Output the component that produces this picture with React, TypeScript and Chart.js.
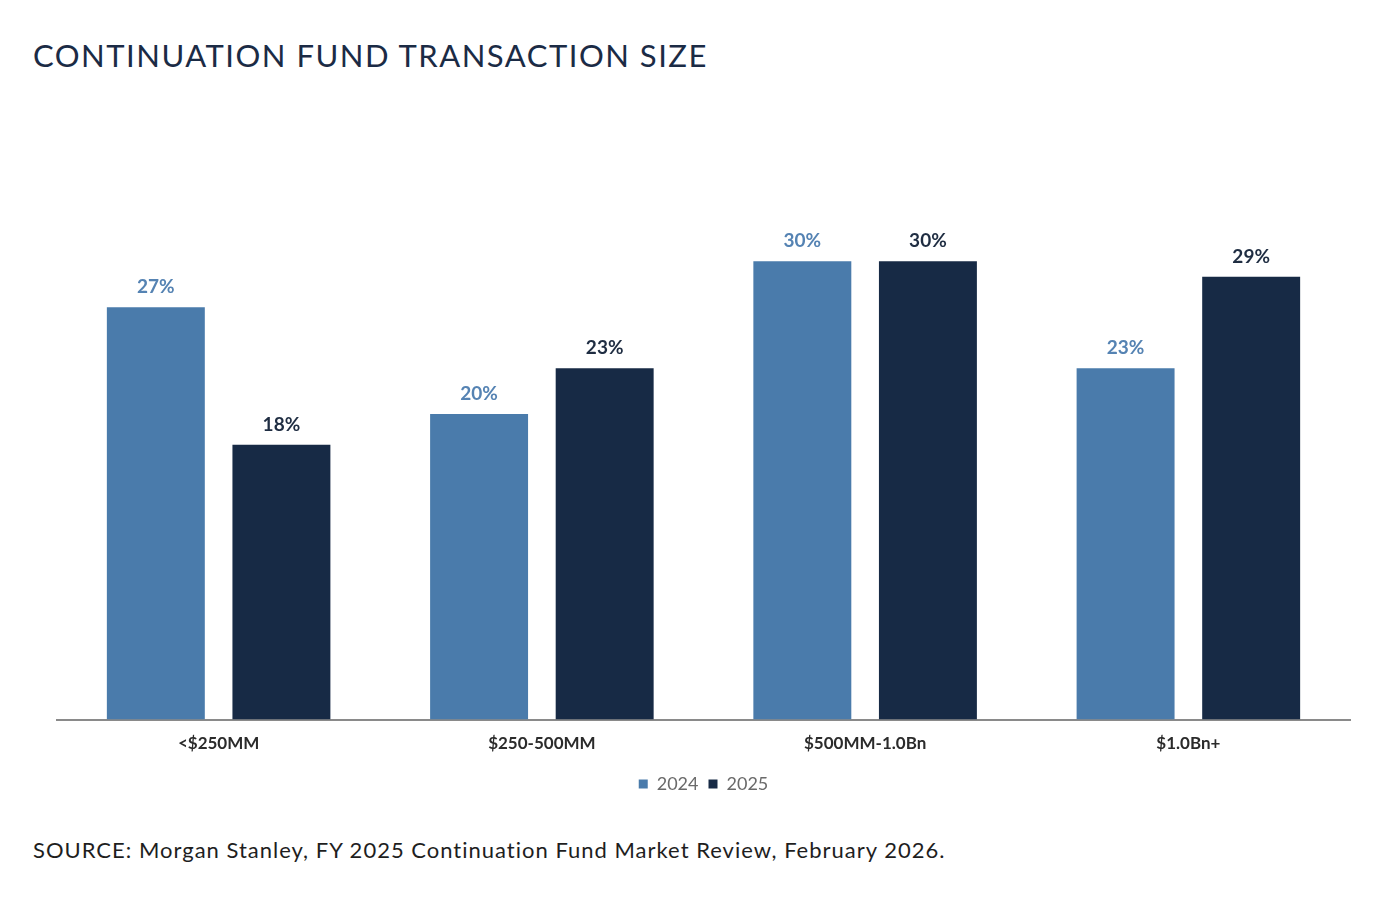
import React, { useEffect, useRef } from "react";
import { Chart, registerables } from "chart.js";

Chart.register(...registerables);

const categories = ["<$250MM", "$250-500MM", "$500MM-1.0Bn", "$1.0Bn+"];
const values2024 = [27, 20, 30, 23];
const values2025 = [18, 23, 30, 29];
const seriesNames = ["2024", "2025"];
const titleText = "CONTINUATION FUND TRANSACTION SIZE";
const sourceText = "SOURCE: Morgan Stanley, FY 2025 Continuation Fund Market Review, February 2026.";

const COLOR_2024 = "#4a7bab";
const COLOR_2025 = "#172a45";
const FONT = "Lato, 'Open Sans', sans-serif";

const labelPlugin = {
  id: "barValueLabels",
  afterDatasetsDraw(chart: any) {
    const ctx = chart.ctx;
    ctx.save();
    ctx.font = `bold 19px ${FONT}`;
    ctx.textAlign = "center";
    ctx.textBaseline = "alphabetic";
    chart.data.datasets.forEach((ds: any, di: number) => {
      const meta = chart.getDatasetMeta(di);
      ctx.fillStyle = di === 0 ? "#5583b3" : "#1f2d42";
      meta.data.forEach((bar: any, i: number) => {
        ctx.fillText(ds.data[i] + "%", bar.x, bar.y - 14);
      });
    });
    ctx.restore();
  },
};

export default function App() {
  const ref = useRef<HTMLCanvasElement | null>(null);
  useEffect(() => {
    if (!ref.current) return;
    const chart = new Chart(ref.current, {
      type: "bar",
      data: {
        labels: categories,
        datasets: [
          {
            label: seriesNames[0],
            data: values2024,
            backgroundColor: COLOR_2024,
            categoryPercentage: 0.777,
            barPercentage: 0.78,
          },
          {
            label: seriesNames[1],
            data: values2025,
            backgroundColor: COLOR_2025,
            categoryPercentage: 0.777,
            barPercentage: 0.78,
          },
        ],
      },
      options: {
        animation: false,
        responsive: false,
        maintainAspectRatio: false,
        layout: { padding: { left: 57, right: 40, top: 35, bottom: 7 } },
        scales: {
          x: {
            grid: { display: false },
            border: { display: true, color: "#8a8a8a", width: 2 },
            ticks: {
              color: "#2b2b2b",
              font: { family: FONT, size: 17, weight: "bold" },
              padding: 6,
            },
            afterFit: (scale: any) => {
              scale.height += 5;
            },
          },
          y: {
            display: false,
            min: 0,
            max: 35,
          },
        },
        plugins: {
          legend: {
            position: "bottom",
            labels: {
              boxWidth: 9,
              boxHeight: 9,
              color: "#6a6a6a",
              font: { family: FONT, size: 18 },
              padding: 10,
            },
          },
          tooltip: { enabled: false },
          title: { display: false },
        },
      },
      plugins: [labelPlugin],
    });
    return () => chart.destroy();
  }, []);

  return (
    <div
      style={{
        position: "fixed",
        left: 0,
        top: 0,
        width: 1390,
        height: 898,
        background: "#fff",
        overflow: "hidden",
      }}
    >
      <div
        style={{
          position: "absolute",
          left: 33,
          top: 36,
          fontFamily: FONT,
          fontSize: 31,
          color: "#1b2b45",
          letterSpacing: 1.5,
          whiteSpace: "nowrap",
          lineHeight: "38px",
        }}
      >
        {titleText}
      </div>
      <canvas
        ref={ref}
        width={1390}
        height={660}
        style={{ position: "absolute", left: 0, top: 150, width: 1390, height: 660 }}
      />
      <div
        style={{
          position: "absolute",
          left: 33,
          top: 836,
          fontFamily: FONT,
          fontSize: 22,
          color: "#1e1e1e",
          letterSpacing: 1,
          whiteSpace: "nowrap",
          lineHeight: "28px",
        }}
      >
        {sourceText}
      </div>
    </div>
  );
}
